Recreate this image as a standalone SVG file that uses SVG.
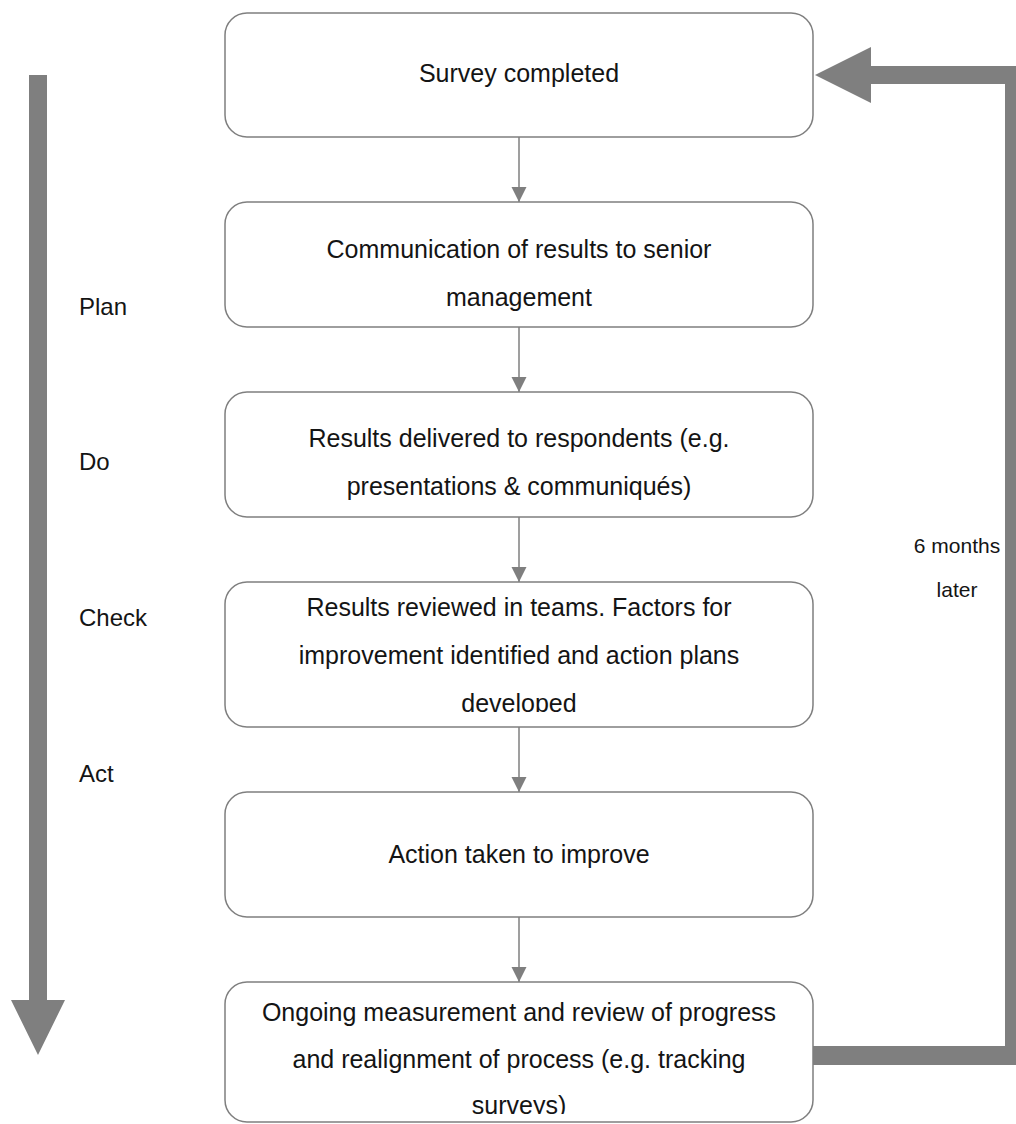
<svg xmlns="http://www.w3.org/2000/svg" width="1016" height="1124" viewBox="0 0 1016 1124">
  <style>
    .box { fill: #ffffff; stroke: #7f7f7f; stroke-width: 1.5; }
    .t { font-family: "Liberation Sans", Arial, sans-serif; font-size: 25px; fill: #141414; text-anchor: middle; }
    .side { font-family: "Liberation Sans", Arial, sans-serif; font-size: 24px; fill: #141414; }
    .note { font-family: "Liberation Sans", Arial, sans-serif; font-size: 21px; fill: #141414; text-anchor: middle; }
    .conn { stroke: #7f7f7f; stroke-width: 1.5; fill: none; }
    .big { fill: #7f7f7f; }
  </style>
  <defs>
    <marker id="ah" markerUnits="userSpaceOnUse" markerWidth="16" markerHeight="16" viewBox="0 0 16 16" refX="15" refY="8" orient="auto">
      <path d="M0,0.5 L15,8 L0,15.5 Z" fill="#7f7f7f"/>
    </marker>
    <clipPath id="clip4"><rect x="225" y="582" width="588" height="130"/></clipPath>
    <clipPath id="clip6"><rect x="225" y="982" width="588" height="132"/></clipPath>
  </defs>

  <g id="pdca-arrow">
    <polygon class="big" points="29,75 47,75 47,1000 65,1000 38,1055 11,1000 29,1000"/>
  </g>

  <g id="feedback-arrow">
    <polygon class="big" points="813,1046 1005,1046 1005,84 871,84 871,103 815,75 871,47 871,66 1023,66 1023,1065 813,1065"/>
  </g>

  <g id="connectors">
    <line class="conn" x1="519" y1="137" x2="519" y2="202" marker-end="url(#ah)"/>
    <line class="conn" x1="519" y1="327" x2="519" y2="392" marker-end="url(#ah)"/>
    <line class="conn" x1="519" y1="517" x2="519" y2="582" marker-end="url(#ah)"/>
    <line class="conn" x1="519" y1="727" x2="519" y2="792" marker-end="url(#ah)"/>
    <line class="conn" x1="519" y1="917" x2="519" y2="982" marker-end="url(#ah)"/>
  </g>

  <g id="node-survey">
    <rect class="box" x="225" y="13" width="588" height="124" rx="22"/>
    <text class="t" x="519" y="82">Survey completed</text>
  </g>
  <g id="node-communication">
    <rect class="box" x="225" y="202" width="588" height="125" rx="22"/>
    <text class="t" x="519" y="258">Communication of results to senior</text>
    <text class="t" x="519" y="306">management</text>
  </g>
  <g id="node-delivered">
    <rect class="box" x="225" y="392" width="588" height="125" rx="22"/>
    <text class="t" x="519" y="447">Results delivered to respondents (e.g.</text>
    <text class="t" x="519" y="495">presentations &amp; communiqués)</text>
  </g>
  <g id="node-reviewed">
    <rect class="box" x="225" y="582" width="588" height="145" rx="22"/>
    <g clip-path="url(#clip4)">
      <text class="t" x="519" y="616">Results reviewed in teams. Factors for</text>
      <text class="t" x="519" y="664">improvement identified and action plans</text>
      <text class="t" x="519" y="712">developed</text>
    </g>
  </g>
  <g id="node-action">
    <rect class="box" x="225" y="792" width="588" height="125" rx="22"/>
    <text class="t" x="519" y="863">Action taken to improve</text>
  </g>
  <g id="node-ongoing">
    <rect class="box" x="225" y="982" width="588" height="140" rx="22"/>
    <g clip-path="url(#clip6)">
      <text class="t" x="519" y="1021">Ongoing measurement and review of progress</text>
      <text class="t" x="519" y="1068">and realignment of process (e.g. tracking</text>
      <text class="t" x="519" y="1114">surveys)</text>
    </g>
  </g>

  <g id="labels">
    <text class="side" x="79" y="315">Plan</text>
    <text class="side" x="79" y="470">Do</text>
    <text class="side" x="79" y="626">Check</text>
    <text class="side" x="79" y="782">Act</text>
    <text class="note" x="957" y="553">6 months</text>
    <text class="note" x="957" y="597">later</text>
  </g>
</svg>
